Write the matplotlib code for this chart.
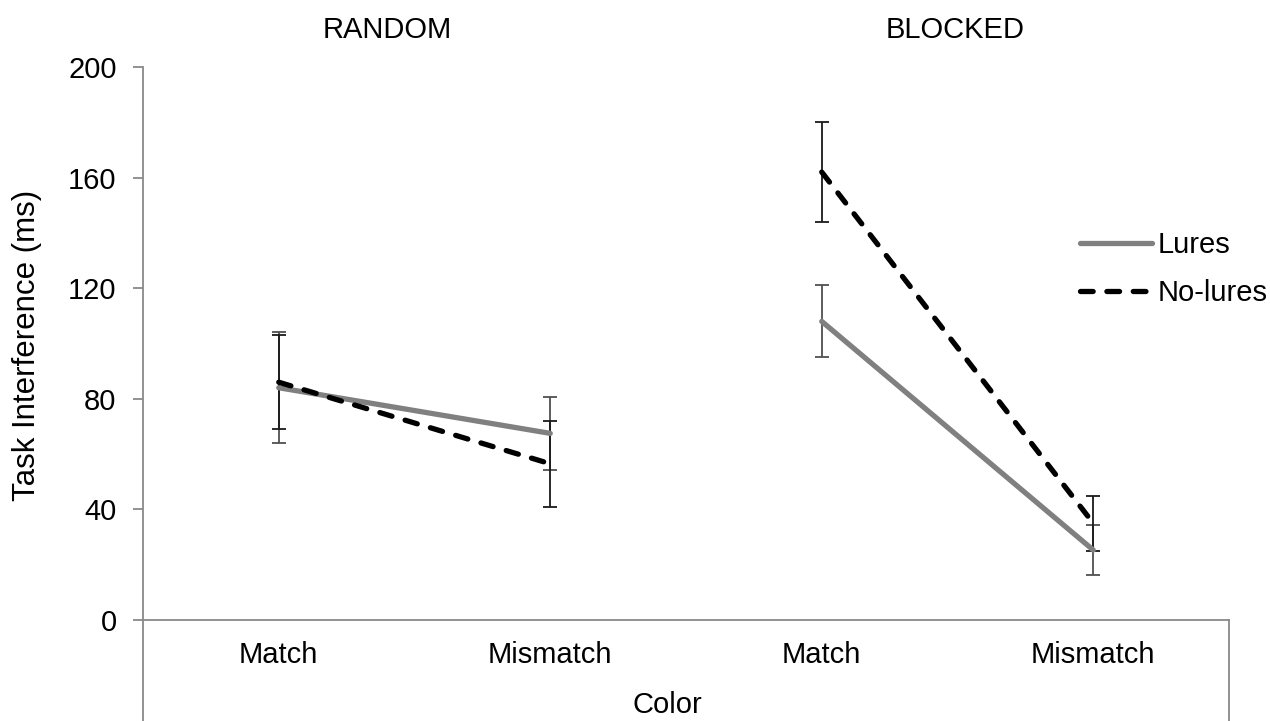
import matplotlib
matplotlib.use("Agg")
import matplotlib.pyplot as plt
import numpy as np

plt.rcParams['font.family'] = ['Liberation Sans', 'DejaVu Sans']

groups = ["RANDOM", "BLOCKED"]
categories = ["Match", "Mismatch", "Match", "Mismatch"]
lures = [84, 67.5, 108, 25.3]
lures_err = [20, 13.3, 13, 9.2]
nolures = [86, 56.5, 162, 35]
nolures_err = [17, 15.5, 18, 10]
yticks = [0, 40, 80, 120, 160, 200]

FS = 21
W, H = 1270, 721
fig = plt.figure(figsize=(W / 100, H / 100), dpi=100)
ax_left, ax_right, ax_top, ax_bot = 143, 1229, 67, 721
ax = fig.add_axes([ax_left / W, 1 - ax_bot / H, (ax_right - ax_left) / W, (ax_bot - ax_top) / H])

ymin = -(721 - 620) / 2.765
ax.set_ylim(ymin, 200)
ax.set_xlim(-0.5, 3.5)

spine_c = '#898989'
for s in ['top', 'right', 'bottom']:
    ax.spines[s].set_visible(False)
ax.spines['left'].set_color(spine_c)
ax.spines['left'].set_linewidth(1.3)
ax.set_yticks(yticks)
ax.set_yticklabels([str(v) for v in yticks], fontsize=FS)
ax.tick_params(axis='y', direction='out', length=7, width=1.3, color=spine_c, pad=12)
ax.set_xticks([])

# category axis line at 0 and right border
ax.plot([-0.5, 3.5], [0, 0], color=spine_c, lw=1.3, clip_on=False)
ax.plot([3.5, 3.5], [ymin, 0], color=spine_c, lw=1.3, clip_on=False)

x = np.arange(len(categories))
for g in range(2):
    idx = [2 * g, 2 * g + 1]
    xs = x[idx]
    ax.errorbar(xs, [lures[i] for i in idx], yerr=[lures_err[i] for i in idx], fmt='none',
                ecolor='#505050', elinewidth=1.3, capsize=4.8, capthick=1.3, zorder=2)
    ax.errorbar(xs, [nolures[i] for i in idx], yerr=[nolures_err[i] for i in idx], fmt='none',
                ecolor='#1a1a1a', elinewidth=1.3, capsize=4.8, capthick=1.3, zorder=2)
    ax.plot(xs, [lures[i] for i in idx], color='#808080', lw=3.8,
            solid_capstyle='round', zorder=3, label='Lures' if g == 0 else None)
    ax.plot(xs, [nolures[i] for i in idx], color='black', lw=3.8, dashes=[2.4, 2.6],
            dash_capstyle='round', zorder=4, label='No-lures' if g == 0 else None)

# category labels
for i, c in enumerate(categories):
    ax.text(i, -12.7, c, ha='center', va='center', fontsize=FS)
ax.text(1.43, -30.7, "Color", ha='center', va='center', fontsize=FS)

# group titles
ax.text(0.40, 213.5, groups[0], ha='center', va='center', fontsize=FS, clip_on=False)
ax.text(2.49, 213.5, groups[1], ha='center', va='center', fontsize=FS, clip_on=False)

fig.text(27 / W, 1 - 345 / H, "Task Interference (ms)", rotation=90, ha='center', va='center', fontsize=22.5)

leg = ax.legend(loc='upper left', bbox_to_anchor=(1080 / W, 1 - 231 / H), bbox_transform=fig.transFigure,
                frameon=False, fontsize=FS, handlelength=2.47, handletextpad=0.2, labelspacing=0.68,
                borderpad=0, borderaxespad=0)

fig.savefig("out.png", dpi=100)
